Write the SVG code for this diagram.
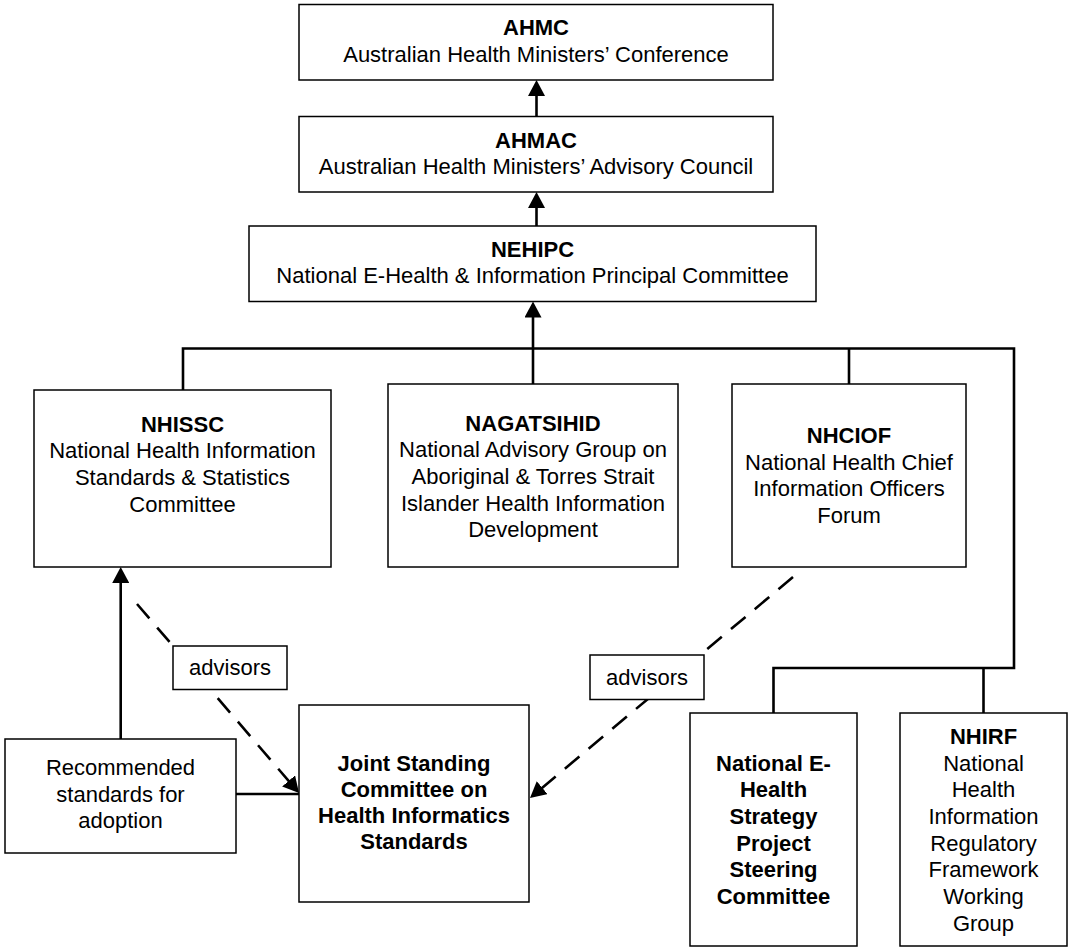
<svg xmlns="http://www.w3.org/2000/svg" width="1069" height="949" viewBox="0 0 1069 949">
<style>
.box{fill:#fff;stroke:#000;stroke-width:1.5}
.t{font-family:"Liberation Sans",Arial,sans-serif;font-size:22px;fill:#000;text-anchor:middle}
.b{font-weight:bold}
.c{fill:none;stroke:#000;stroke-width:2.6}
.d{fill:none;stroke:#000;stroke-width:2.6;stroke-dasharray:19 12}
</style>
<defs>
<marker id="ah" markerUnits="userSpaceOnUse" markerWidth="17" markerHeight="17" refX="2" refY="8.5" orient="auto">
<path d="M0,0 L16,8.5 L0,17 z" fill="#000"/>
</marker>
</defs>
<rect width="1069" height="949" fill="#fff"/>
<g id="connectors">
<line class="c" x1="536.5" y1="116" x2="536.5" y2="94" marker-end="url(#ah)"/>
<line class="c" x1="536.5" y1="226" x2="536.5" y2="206" marker-end="url(#ah)"/>
<line class="c" x1="533" y1="348.5" x2="533" y2="315.5" marker-end="url(#ah)"/>
<polyline class="c" points="183,390 183,348.5 1014,348.5 1014,668 773.5,668 773.5,713"/>
<line class="c" x1="533" y1="348.5" x2="533" y2="384"/>
<line class="c" x1="849" y1="348.5" x2="849" y2="384"/>
<line class="c" x1="983.5" y1="668" x2="983.5" y2="713"/>
<line class="c" x1="120.7" y1="739" x2="120.7" y2="581" marker-end="url(#ah)"/>
<line class="c" x1="236" y1="794" x2="299" y2="794"/>
<line class="d" x1="137" y1="604" x2="289.9" y2="782.4" marker-end="url(#ah)"/>
<line class="d" x1="793" y1="577" x2="540.7" y2="789" marker-end="url(#ah)"/>
</g>
<g id="ahmc">
<rect class="box" x="299" y="4.5" width="474" height="75.5"/>
<text class="t"><tspan class="b" x="536" y="35">AHMC</tspan><tspan x="536" y="61.5">Australian Health Ministers’ Conference</tspan></text>
</g>
<g id="ahmac">
<rect class="box" x="299" y="116.5" width="474" height="75.5"/>
<text class="t"><tspan class="b" x="536" y="147.7">AHMAC</tspan><tspan x="536" y="174">Australian Health Ministers’ Advisory Council</tspan></text>
</g>
<g id="nehipc">
<rect class="box" x="249" y="226" width="567" height="75.5"/>
<text class="t"><tspan class="b" x="532.5" y="256.7">NEHIPC</tspan><tspan x="532.5" y="283.3">National E-Health &amp; Information Principal Committee</tspan></text>
</g>
<g id="nhissc">
<rect class="box" x="34" y="390" width="297" height="177"/>
<text class="t"><tspan class="b" x="182.5" y="431.5">NHISSC</tspan><tspan x="182.5" y="458.2">National Health Information</tspan><tspan x="182.5" y="484.9">Standards &amp; Statistics</tspan><tspan x="182.5" y="511.6">Committee</tspan></text>
</g>
<g id="nagatsihid">
<rect class="box" x="388" y="384" width="290" height="183"/>
<text class="t"><tspan class="b" x="533" y="430.5">NAGATSIHID</tspan><tspan x="533" y="457.2">National Advisory Group on</tspan><tspan x="533" y="483.9">Aboriginal &amp; Torres Strait</tspan><tspan x="533" y="510.6">Islander Health Information</tspan><tspan x="533" y="537.3">Development</tspan></text>
</g>
<g id="nhciof">
<rect class="box" x="732" y="384" width="234" height="183"/>
<text class="t"><tspan class="b" x="849" y="443">NHCIOF</tspan><tspan x="849" y="469.7">National Health Chief</tspan><tspan x="849" y="496.4">Information Officers</tspan><tspan x="849" y="523.1">Forum</tspan></text>
</g>
<g id="advisors-left">
<rect class="box" x="173" y="646" width="114" height="43.5"/>
<text class="t" x="230" y="675">advisors</text>
</g>
<g id="advisors-right">
<rect class="box" x="590" y="655" width="114" height="44.5"/>
<text class="t" x="647" y="684.5">advisors</text>
</g>
<g id="recommended">
<rect class="box" x="5" y="739" width="231" height="114"/>
<text class="t"><tspan x="120.5" y="775">Recommended</tspan><tspan x="120.5" y="801.7">standards for</tspan><tspan x="120.5" y="828.4">adoption</tspan></text>
</g>
<g id="jschis">
<rect class="box" x="299" y="705" width="230" height="197"/>
<text class="t b"><tspan x="414" y="771">Joint Standing</tspan><tspan x="414" y="797">Committee on</tspan><tspan x="414" y="823">Health Informatics</tspan><tspan x="414" y="849">Standards</tspan></text>
</g>
<g id="nehspsc">
<rect class="box" x="690" y="713" width="167" height="233"/>
<text class="t b"><tspan x="773.5" y="770.5">National E-</tspan><tspan x="773.5" y="797.2">Health</tspan><tspan x="773.5" y="823.9">Strategy</tspan><tspan x="773.5" y="850.6">Project</tspan><tspan x="773.5" y="877.3">Steering</tspan><tspan x="773.5" y="904">Committee</tspan></text>
</g>
<g id="nhirf">
<rect class="box" x="900" y="713" width="167" height="233"/>
<text class="t"><tspan class="b" x="983.5" y="743.8">NHIRF</tspan><tspan x="983.5" y="770.5">National</tspan><tspan x="983.5" y="797.2">Health</tspan><tspan x="983.5" y="823.9">Information</tspan><tspan x="983.5" y="850.6">Regulatory</tspan><tspan x="983.5" y="877.3">Framework</tspan><tspan x="983.5" y="904">Working</tspan><tspan x="983.5" y="930.7">Group</tspan></text>
</g>
</svg>
